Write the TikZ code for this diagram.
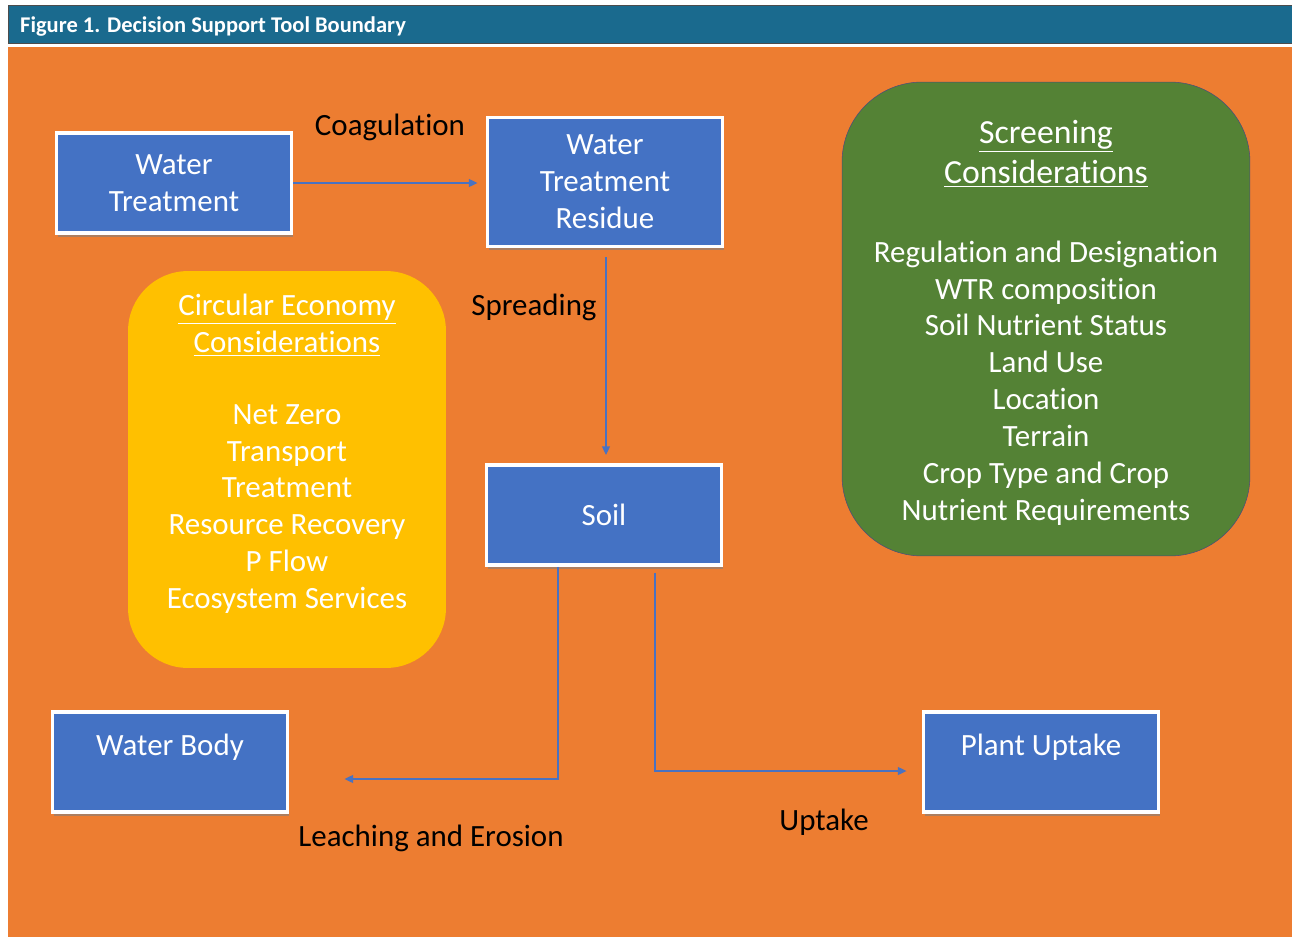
\documentclass[tikz,border=0pt]{standalone}
\usepackage{fontspec}
\setmainfont{Carlito}[Ligatures={NoCommon}]
\usepackage{tikz}
\usetikzlibrary{arrows.meta, positioning, calc, shadows}
\definecolor{headblue}{HTML}{1A6A8E}
\definecolor{bgorange}{HTML}{ED7D31}
\definecolor{boxblue}{HTML}{4472C4}
\definecolor{circyellow}{HTML}{FFC000}
\definecolor{screengreen}{HTML}{548235}
\definecolor{linkblue}{HTML}{4A72C0}

\begin{document}
\begin{tikzpicture}[x=0.02cm, y=-0.02cm,
    box/.style={draw=white, line width=2.2pt, fill=boxblue, text=white, align=center,
      minimum width=4.70cm, minimum height=2.00cm, font=\fontsize{17.6}{21}\selectfont,
      drop shadow={opacity=0.6, shadow xshift=1pt, shadow yshift=-2.2pt}},
    topbox/.style={box, text height=0.42cm, text depth=0.70cm},
    flowlabel/.style={text=black, font=\fontsize{17.6}{21}\selectfont},
    infotext/.style={text=white, align=center, font=\fontsize{17.6}{21}\selectfont},
    link/.style={draw=linkblue, line width=0.85pt, -{Triangle[length=5pt, width=4.5pt]}}]
  \useasboundingbox (0,0) rectangle (1292,937);
  % header and background
  \fill[white] (0,0) rectangle (1292,937);
  \draw[fill=headblue, draw=black!70] (8,5) rectangle (1292,43);
  \node[anchor=west, text=white, font=\fontsize{12.8}{15}\selectfont\bfseries] (title) at (14,27) {Figure 1. Decision Support Tool Boundary};
  \fill[bgorange] (8,47) rectangle (1292,937);

  % side panels
  \node[fill=circyellow, rounded corners=1.2cm, minimum width=6.36cm, minimum height=7.94cm] (circ) at (287,469.5) {};
  \node[infotext] (circtitle) at (287,325) {\underline{Circular Economy}\\\underline{Considerations}};
  \node[infotext] (circlist) at (287,509) {Net Zero\\Transport\\Treatment\\Resource Recovery\\P Flow\\Ecosystem Services};

  \node[fill=screengreen, draw=blue!25!black!70, line width=0.3pt, rounded corners=1.6cm, minimum width=8.16cm, minimum height=9.48cm] (screen) at (1046,319) {};
  \node[infotext, font=\fontsize{19.2}{23}\selectfont] (screentitle) at (1046,154) {\underline{Screening}\\\underline{Considerations}};
  \node[infotext] (screenlist) at (1046,383) {Regulation and Designation\\WTR composition\\Soil Nutrient Status\\Land Use\\Location\\Terrain\\Crop Type and Crop\\Nutrient Requirements};

  % process boxes
  \node[box] (wt) at (174,183) {Water\\Treatment};
  \node[box, minimum height=2.58cm] (wtr) at (605,182) {Water\\Treatment\\Residue};
  \node[box] (soil) at (604,515) {Soil};
  \node[topbox] (body) at (170,762) {Water Body};
  \node[topbox] (plant) at (1041,762) {Plant Uptake};

  % connectors
  \draw[link, shorten >=0.16cm] (wt.east) -- (wtr.west |- wt.east);
  \draw[link, shorten <=0.18cm, shorten >=0.16cm] ([xshift=0.02cm]wtr.south) -- ([xshift=0.02cm]wtr.south |- soil.north);
  \coordinate (leach) at ([xshift=1.1cm, yshift=-0.34cm]body.east);
  \draw[link] ([xshift=-0.92cm]soil.south) |- (leach);
  \coordinate (uptake) at ([xshift=-0.3cm, yshift=-0.18cm]plant.west);
  \draw[link] ([xshift=1.02cm, yshift=-0.12cm]soil.south) |- (uptake);

  % connector labels
  \node[flowlabel] (coag) at (390,127) {Coagulation};
  \node[flowlabel] (spread) at (534,307) {Spreading};
  \node[flowlabel] (leachlbl) at (431,838) {Leaching and Erosion};
  \node[flowlabel] (uptakelbl) at (824,822) {Uptake};
\end{tikzpicture}
\end{document}
